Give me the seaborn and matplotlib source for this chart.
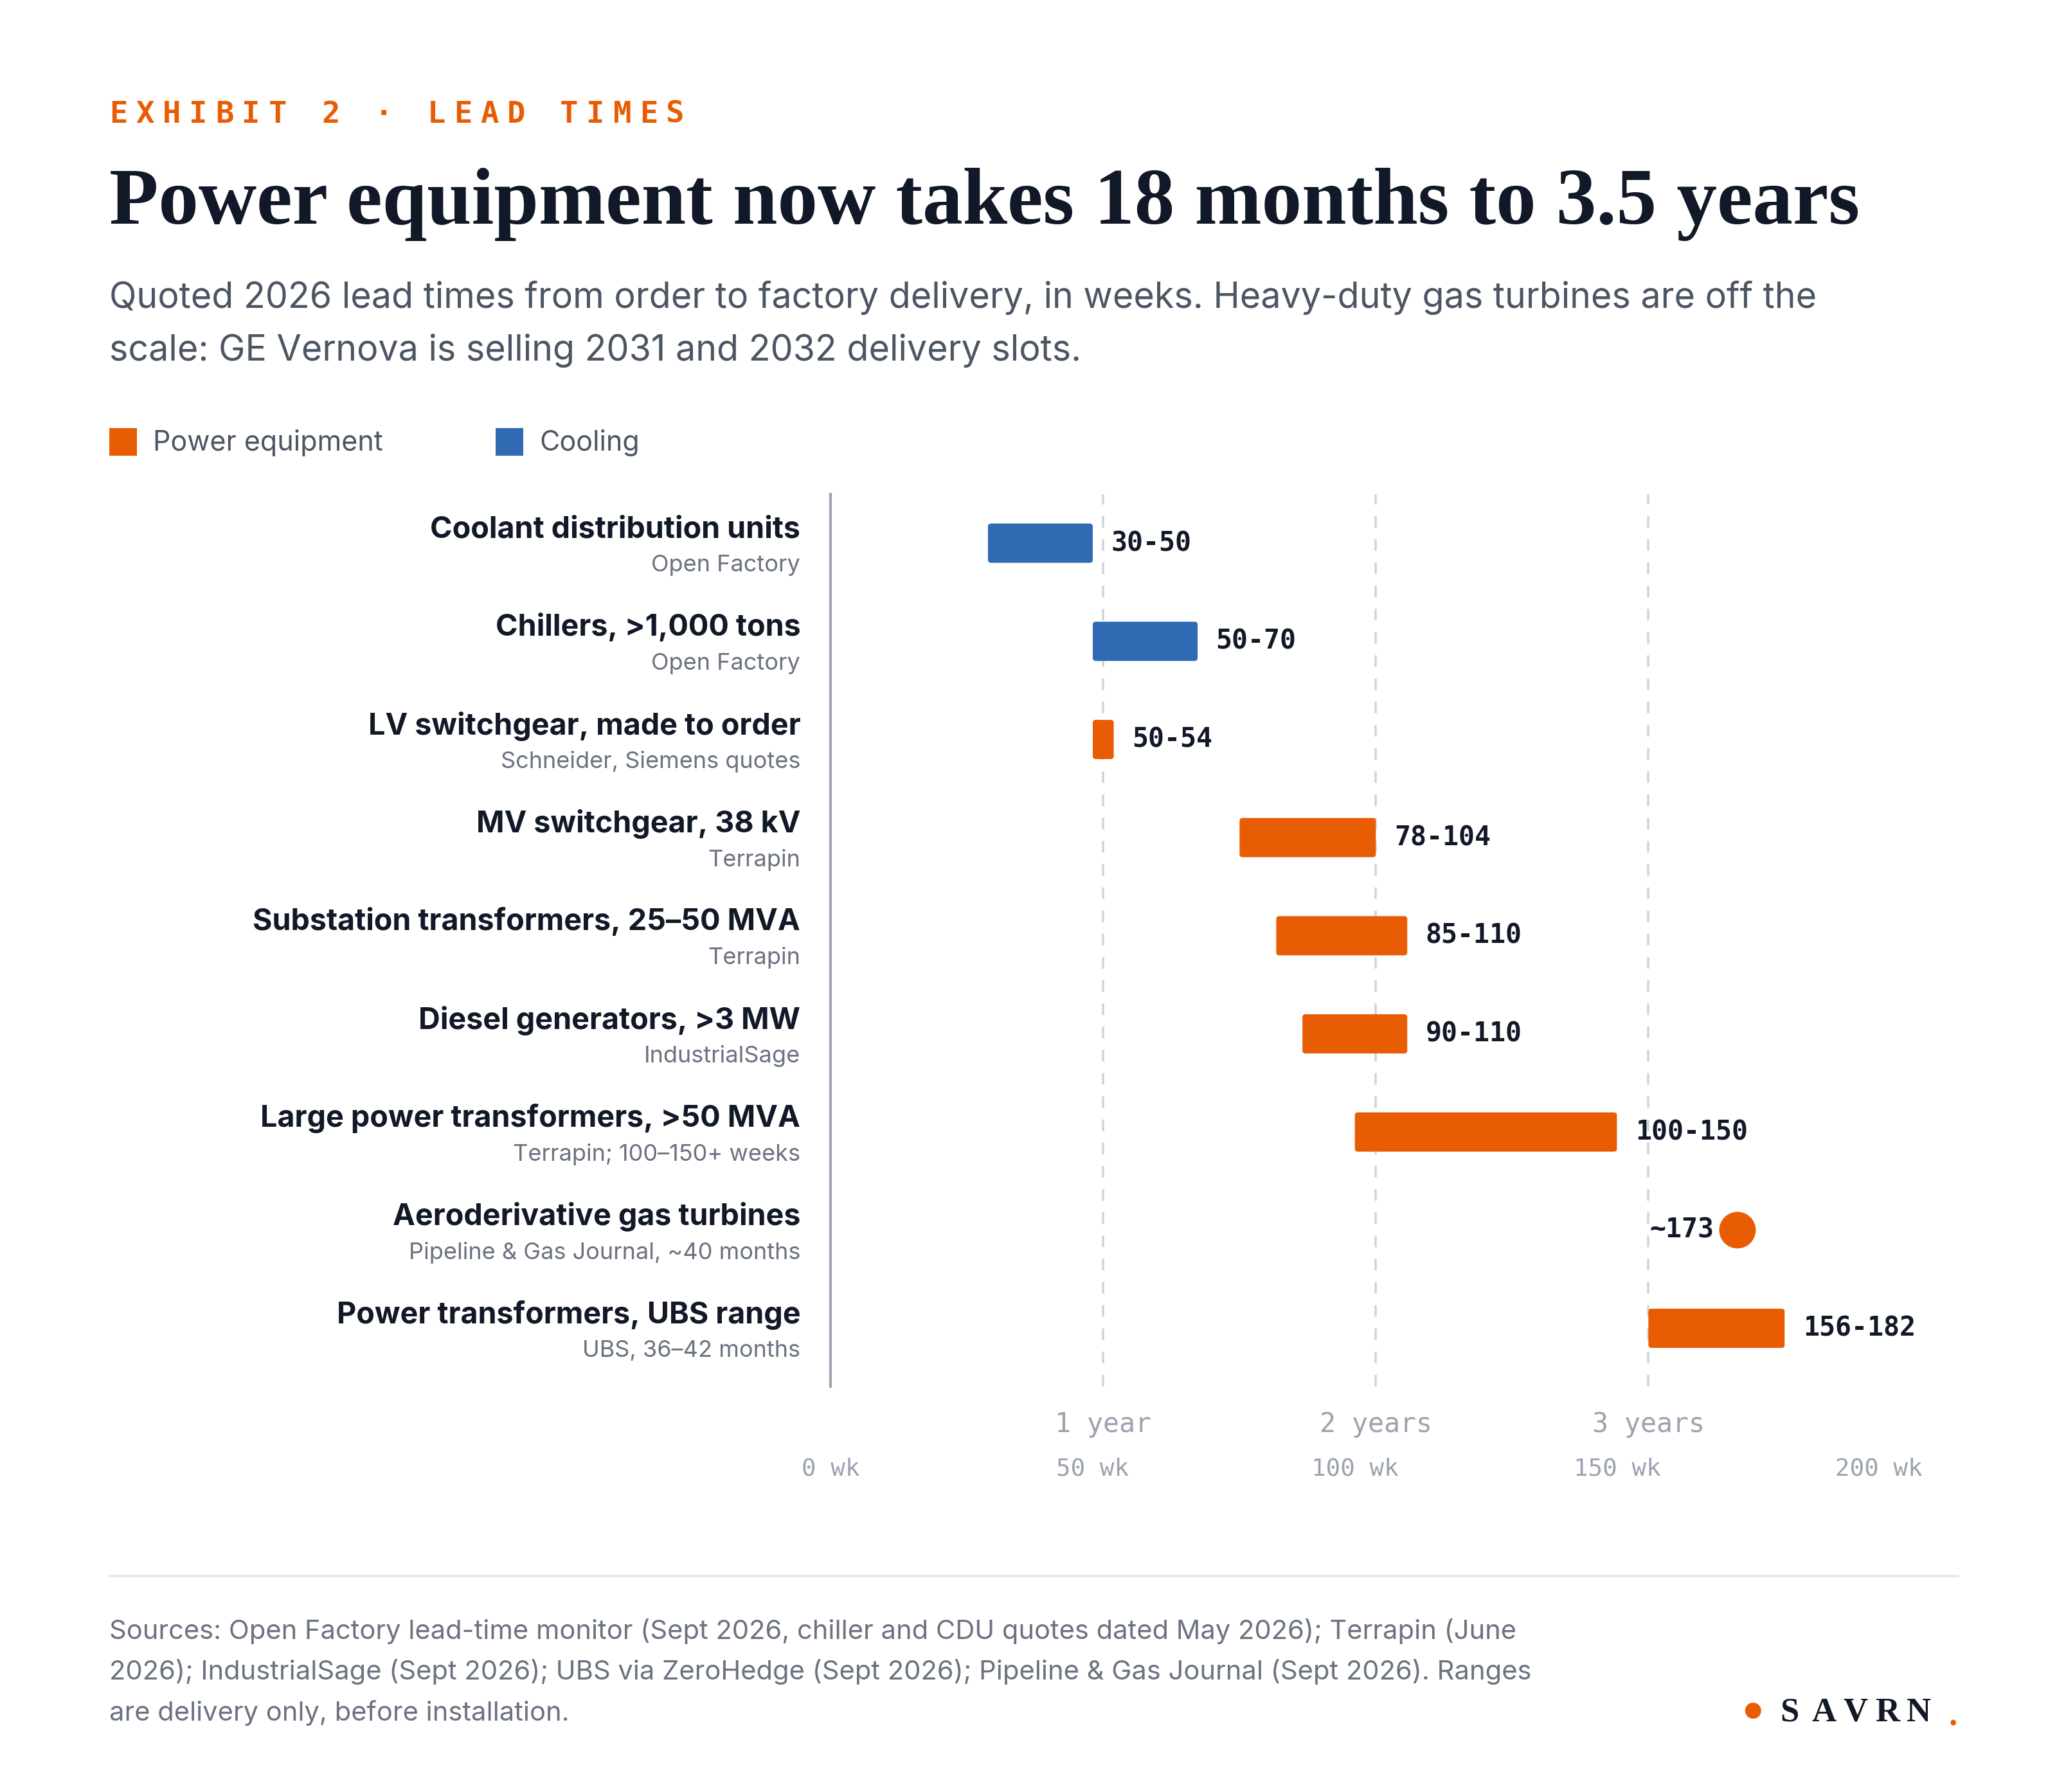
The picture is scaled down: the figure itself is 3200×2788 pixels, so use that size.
import matplotlib
matplotlib.use("Agg")
import matplotlib.pyplot as plt
import seaborn as sns
import pandas as pd
from matplotlib.patches import FancyBboxPatch, Rectangle
from matplotlib.lines import Line2D

categories = ["Coolant distribution units", "Chillers, >1,000 tons", "LV switchgear, made to order",
              "MV switchgear, 38 kV", "Substation transformers, 25\u201350 MVA", "Diesel generators, >3 MW",
              "Large power transformers, >50 MVA", "Aeroderivative gas turbines", "Power transformers, UBS range"]
sources = ["Open Factory", "Open Factory", "Schneider, Siemens quotes", "Terrapin", "Terrapin",
           "IndustrialSage", "Terrapin; 100\u2013150+ weeks", "Pipeline & Gas Journal, ~40 months",
           "UBS, 36\u201342 months"]
groups = ["Cooling", "Cooling", "Power", "Power", "Power", "Power", "Power", "Power", "Power"]
low = [30, 50, 50, 78, 85, 90, 100, 173, 156]
high = [50, 70, 54, 104, 110, 110, 150, 173, 182]
value_labels = ["30-50", "50-70", "50-54", "78-104", "85-110", "90-110", "100-150", "~173", "156-182"]
x_ticks = [0, 50, 100, 150, 200]
x_tick_labels = ["0 wk", "50 wk", "100 wk", "150 wk", "200 wk"]
year_ticks = [52, 104, 156]
year_labels = ["1 year", "2 years", "3 years"]

ORANGE = "#E85D04"
BLUE = "#2F6AB3"
DARK = "#111827"
GRAY = "#4B5563"
LGRAY = "#6B7280"
TGRAY = "#9CA3AF"
colors = {"Power": ORANGE, "Cooling": BLUE}

sns.set_theme(style="white")
plt.rcParams["font.family"] = ["Inter", "DejaVu Sans"]
MONO = "DejaVu Sans Mono"

df = pd.DataFrame({"cat": categories, "low": low, "high": high, "group": groups, "lab": value_labels})
df["pos"] = range(len(df))

fig = plt.figure(figsize=(16, 13.94), dpi=200)
W, H = 1560, 1360
def fx(x): return x / W
def fy(y): return 1 - y / H

ax = fig.add_axes([fx(630), fy(1052), fx(1425) - fx(630), fy(375) - fy(1052)])
ax.set_xlim(0, 200)
ax.set_ylim(8.59, -0.5)

for yl in year_ticks:
    ax.axvline(yl, color="#D1D5DB", lw=1.3, ls=(0, (5, 5)), zorder=0)

ranges = df[df["low"] != df["high"]]
for _, r in ranges.iterrows():
    ax.add_patch(FancyBboxPatch((r["low"], r["pos"] - 0.2), r["high"] - r["low"], 0.4,
                                boxstyle="round,pad=0,rounding_size=0.6", mutation_aspect=0.05,
                                fc=colors[r["group"]], ec="none", zorder=3))
    ax.text(r["high"] + 3.5, r["pos"], r["lab"], family=MONO, weight="bold", fontsize=15,
            color=DARK, va="center", ha="left")
points = df[df["low"] == df["high"]]
sns.scatterplot(data=points, x="high", y="pos", color=ORANGE, s=420, edgecolor="none", ax=ax, zorder=4, legend=False)
for _, r in points.iterrows():
    ax.text(r["high"] - 4.5, r["pos"], r["lab"], family=MONO, weight="bold", fontsize=15,
            color=DARK, va="center", ha="right")

ax.set_xticks([]); ax.set_yticks([])
ax.set_xlabel(""); ax.set_ylabel("")
for s in ["top", "right", "bottom"]:
    ax.spines[s].set_visible(False)
ax.spines["left"].set_color("#9CA3AF")
ax.spines["left"].set_linewidth(1.5)

xt = ax.get_xaxis_transform()
for v, t in zip(x_ticks, x_tick_labels):
    ax.text(v, (1052 - 1115) / (1052 - 375), t, transform=xt, family=MONO, fontsize=13.5,
            color=TGRAY, ha="center", va="center")
for v, t in zip(year_ticks, year_labels):
    ax.text(v, (1052 - 1081) / (1052 - 375), t, transform=xt, family=MONO, fontsize=15,
            color=TGRAY, ha="center", va="center")

for i, (c, s) in enumerate(zip(categories, sources)):
    yc = 412 + i * 74.5
    fig.text(fx(607), fy(yc - 10), c, ha="right", va="center", fontsize=16.8, weight="bold", color=DARK)
    fig.text(fx(607), fy(yc + 17), s, ha="right", va="center", fontsize=13, color=LGRAY)

eb = "EXHIBIT 2 \u00b7 LEAD TIMES"
for k, ch in enumerate(eb):
    fig.text(fx(83 + k * 20.1), fy(87), ch, family=MONO, fontsize=17, weight="bold", color=ORANGE, ha="left", va="center")
fig.text(fx(83), fy(155), "Power equipment now takes 18 months to 3.5 years",
         family=["Liberation Serif", "DejaVu Serif"], weight="bold", fontsize=45, color=DARK, ha="left", va="center")
fig.text(fx(83), fy(226), "Quoted 2026 lead times from order to factory delivery, in weeks. Heavy-duty gas turbines are off the",
         fontsize=20, color=GRAY, ha="left", va="center")
fig.text(fx(83), fy(266), "scale: GE Vernova is selling 2031 and 2032 delivery slots.",
         fontsize=20, color=GRAY, ha="left", va="center")

for x0, lab, col in [(83, "Power equipment", ORANGE), (376, "Cooling", BLUE)]:
    fig.patches.append(Rectangle((fx(x0), fy(346)), fx(21), fy(325) - fy(346), transform=fig.transFigure,
                                 fc=col, ec="none"))
    fig.text(fx(x0 + 33), fy(336), lab, fontsize=15.5, color=GRAY, ha="left", va="center")

fig.add_artist(Line2D([fx(83), fx(1485)], [fy(1196), fy(1196)], color="#E5E7EB", lw=1.3))
foot = ["Sources: Open Factory lead-time monitor (Sept 2026, chiller and CDU quotes dated May 2026); Terrapin (June",
        "2026); IndustrialSage (Sept 2026); UBS via ZeroHedge (Sept 2026); Pipeline & Gas Journal (Sept 2026). Ranges",
        "are delivery only, before installation."]
for k, l in enumerate(foot):
    fig.text(fx(83), fy(1238 + k * 31), l, fontsize=15, color=LGRAY, ha="left", va="center")

fig.text(fx(1329), fy(1300), "\u25cf", fontsize=12, color=ORANGE, ha="center", va="center")
for k, ch in enumerate("SAVRN"):
    fig.text(fx(1350 + k * 24), fy(1300), ch, family=["Liberation Serif", "DejaVu Serif"], weight="bold",
             fontsize=19, color=DARK, ha="left", va="center")
fig.text(fx(1481), fy(1303), ".", family=["Liberation Serif"], weight="bold", fontsize=19, color=ORANGE, ha="center", va="center")

fig.savefig("out.png", dpi=200, facecolor="white")
